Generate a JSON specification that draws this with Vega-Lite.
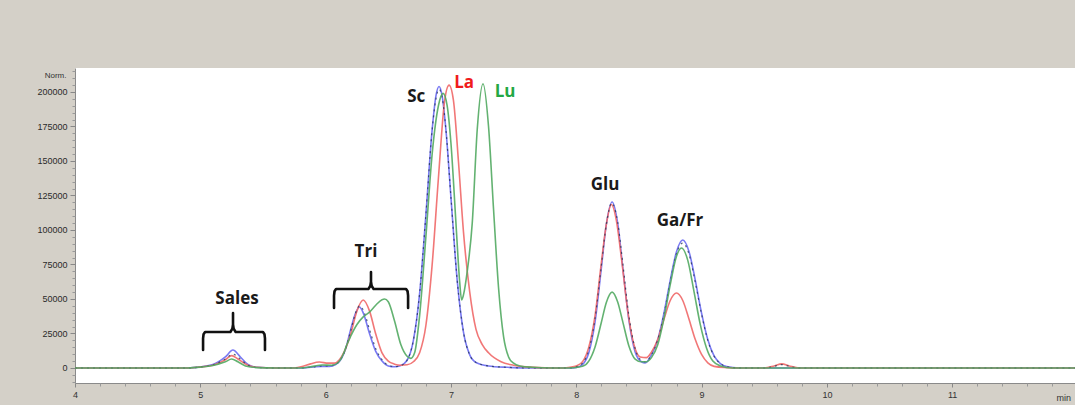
{
  "$schema": "https://vega.github.io/schema/vega-lite/v6.json",
  "width": 1000,
  "height": 315,
  "autosize": {"type": "none"},
  "padding": {"left": 75, "top": 68, "right": 0, "bottom": 22},
  "background": "#d4d0c8",
  "config": {"view": {"fill": "white", "stroke": null}},
  "datasets": {
    "tr": [
      {"s":"Sc","t":4.0,"v":0},{"s":"Sc","t":4.9,"v":0},{"s":"Sc","t":5.0,"v":800},{"s":"Sc","t":5.1,"v":2500},{"s":"Sc","t":5.2,"v":8000},{"s":"Sc","t":5.26,"v":13000},{"s":"Sc","t":5.32,"v":8000},{"s":"Sc","t":5.38,"v":2500},{"s":"Sc","t":5.45,"v":500},{"s":"Sc","t":5.6,"v":0},{"s":"Sc","t":5.8,"v":0},{"s":"Sc","t":5.9,"v":800},{"s":"Sc","t":5.97,"v":1200},{"s":"Sc","t":6.03,"v":1200},{"s":"Sc","t":6.08,"v":2500},{"s":"Sc","t":6.12,"v":6000},{"s":"Sc","t":6.16,"v":14000},{"s":"Sc","t":6.2,"v":28000},{"s":"Sc","t":6.24,"v":40000},{"s":"Sc","t":6.27,"v":44200},{"s":"Sc","t":6.3,"v":40000},{"s":"Sc","t":6.35,"v":25000},{"s":"Sc","t":6.4,"v":12000},{"s":"Sc","t":6.45,"v":5000},{"s":"Sc","t":6.5,"v":1500},{"s":"Sc","t":6.55,"v":900},{"s":"Sc","t":6.6,"v":1800},{"s":"Sc","t":6.65,"v":5600},{"s":"Sc","t":6.7,"v":19900},{"s":"Sc","t":6.75,"v":53900},{"s":"Sc","t":6.8,"v":110800},{"s":"Sc","t":6.85,"v":172500},{"s":"Sc","t":6.88,"v":197000},{"s":"Sc","t":6.905,"v":204000},{"s":"Sc","t":6.93,"v":197000},{"s":"Sc","t":6.96,"v":172500},{"s":"Sc","t":7.0,"v":123700},{"s":"Sc","t":7.05,"v":63500},{"s":"Sc","t":7.1,"v":26000},{"s":"Sc","t":7.15,"v":9500},{"s":"Sc","t":7.2,"v":4000},{"s":"Sc","t":7.3,"v":1500},{"s":"Sc","t":7.45,"v":500},{"s":"Sc","t":7.6,"v":0},{"s":"Sc","t":7.95,"v":0},{"s":"Sc","t":8.0,"v":400},{"s":"Sc","t":8.05,"v":2500},{"s":"Sc","t":8.1,"v":11000},{"s":"Sc","t":8.15,"v":33400},{"s":"Sc","t":8.2,"v":72200},{"s":"Sc","t":8.24,"v":104000},{"s":"Sc","t":8.286,"v":120300},{"s":"Sc","t":8.33,"v":105300},{"s":"Sc","t":8.37,"v":73900},{"s":"Sc","t":8.42,"v":34600},{"s":"Sc","t":8.47,"v":11600},{"s":"Sc","t":8.52,"v":4500},{"s":"Sc","t":8.55,"v":3600},{"s":"Sc","t":8.6,"v":9500},{"s":"Sc","t":8.65,"v":20400},{"s":"Sc","t":8.7,"v":39700},{"s":"Sc","t":8.75,"v":63500},{"s":"Sc","t":8.8,"v":84300},{"s":"Sc","t":8.85,"v":92700},{"s":"Sc","t":8.9,"v":84300},{"s":"Sc","t":8.95,"v":63500},{"s":"Sc","t":9.0,"v":39700},{"s":"Sc","t":9.05,"v":20400},{"s":"Sc","t":9.1,"v":8700},{"s":"Sc","t":9.15,"v":3200},{"s":"Sc","t":9.2,"v":1000},{"s":"Sc","t":9.3,"v":0},{"s":"Sc","t":11.98,"v":0},
      {"s":"La","t":4.0,"v":0},{"s":"La","t":4.9,"v":0},{"s":"La","t":5.0,"v":800},{"s":"La","t":5.1,"v":2000},{"s":"La","t":5.2,"v":6000},{"s":"La","t":5.25,"v":9000},{"s":"La","t":5.3,"v":6500},{"s":"La","t":5.38,"v":2000},{"s":"La","t":5.45,"v":500},{"s":"La","t":5.6,"v":0},{"s":"La","t":5.75,"v":0},{"s":"La","t":5.82,"v":1200},{"s":"La","t":5.88,"v":3000},{"s":"La","t":5.95,"v":4300},{"s":"La","t":6.02,"v":3500},{"s":"La","t":6.07,"v":3500},{"s":"La","t":6.11,"v":6000},{"s":"La","t":6.15,"v":12000},{"s":"La","t":6.2,"v":24600},{"s":"La","t":6.25,"v":41400},{"s":"La","t":6.3,"v":49300},{"s":"La","t":6.35,"v":41400},{"s":"La","t":6.4,"v":24600},{"s":"La","t":6.45,"v":11000},{"s":"La","t":6.5,"v":5000},{"s":"La","t":6.55,"v":2800},{"s":"La","t":6.6,"v":2000},{"s":"La","t":6.65,"v":2300},{"s":"La","t":6.7,"v":4500},{"s":"La","t":6.75,"v":11000},{"s":"La","t":6.8,"v":30800},{"s":"La","t":6.85,"v":74700},{"s":"La","t":6.9,"v":137500},{"s":"La","t":6.95,"v":194000},{"s":"La","t":6.985,"v":205000},{"s":"La","t":7.02,"v":194000},{"s":"La","t":7.06,"v":149600},{"s":"La","t":7.1,"v":98600},{"s":"La","t":7.15,"v":55000},{"s":"La","t":7.2,"v":28000},{"s":"La","t":7.25,"v":17000},{"s":"La","t":7.3,"v":11000},{"s":"La","t":7.4,"v":4500},{"s":"La","t":7.5,"v":2000},{"s":"La","t":7.6,"v":800},{"s":"La","t":7.8,"v":0},{"s":"La","t":7.9,"v":0},{"s":"La","t":7.95,"v":500},{"s":"La","t":8.0,"v":1500},{"s":"La","t":8.05,"v":4500},{"s":"La","t":8.1,"v":15000},{"s":"La","t":8.15,"v":38000},{"s":"La","t":8.2,"v":76000},{"s":"La","t":8.24,"v":104000},{"s":"La","t":8.28,"v":118500},{"s":"La","t":8.32,"v":107000},{"s":"La","t":8.36,"v":80000},{"s":"La","t":8.41,"v":42000},{"s":"La","t":8.46,"v":17000},{"s":"La","t":8.51,"v":8000},{"s":"La","t":8.56,"v":7500},{"s":"La","t":8.6,"v":11500},{"s":"La","t":8.65,"v":20600},{"s":"La","t":8.7,"v":35300},{"s":"La","t":8.75,"v":48900},{"s":"La","t":8.8,"v":54300},{"s":"La","t":8.85,"v":48900},{"s":"La","t":8.9,"v":35300},{"s":"La","t":8.95,"v":20600},{"s":"La","t":9.0,"v":9800},{"s":"La","t":9.05,"v":3700},{"s":"La","t":9.1,"v":1200},{"s":"La","t":9.2,"v":300},{"s":"La","t":9.3,"v":0},{"s":"La","t":9.5,"v":0},{"s":"La","t":9.58,"v":1500},{"s":"La","t":9.64,"v":3000},{"s":"La","t":9.7,"v":1500},{"s":"La","t":9.78,"v":0},{"s":"La","t":11.98,"v":0},
      {"s":"Lu","t":4.0,"v":0},{"s":"Lu","t":4.9,"v":0},{"s":"Lu","t":5.0,"v":600},{"s":"Lu","t":5.1,"v":1800},{"s":"Lu","t":5.2,"v":4500},{"s":"Lu","t":5.25,"v":6500},{"s":"Lu","t":5.3,"v":4500},{"s":"Lu","t":5.36,"v":1500},{"s":"Lu","t":5.45,"v":300},{"s":"Lu","t":5.6,"v":0},{"s":"Lu","t":5.8,"v":0},{"s":"Lu","t":5.9,"v":1200},{"s":"Lu","t":5.97,"v":2200},{"s":"Lu","t":6.05,"v":2000},{"s":"Lu","t":6.1,"v":4000},{"s":"Lu","t":6.15,"v":12000},{"s":"Lu","t":6.17,"v":17000},{"s":"Lu","t":6.2,"v":23000},{"s":"Lu","t":6.25,"v":31500},{"s":"Lu","t":6.3,"v":37000},{"s":"Lu","t":6.35,"v":40500},{"s":"Lu","t":6.4,"v":45500},{"s":"Lu","t":6.45,"v":49500},{"s":"Lu","t":6.47,"v":50000},{"s":"Lu","t":6.5,"v":48000},{"s":"Lu","t":6.55,"v":34000},{"s":"Lu","t":6.6,"v":17000},{"s":"Lu","t":6.65,"v":8500},{"s":"Lu","t":6.68,"v":7000},{"s":"Lu","t":6.71,"v":11000},{"s":"Lu","t":6.75,"v":38000},{"s":"Lu","t":6.8,"v":95000},{"s":"Lu","t":6.85,"v":155000},{"s":"Lu","t":6.9,"v":190000},{"s":"Lu","t":6.937,"v":199000},{"s":"Lu","t":6.97,"v":190000},{"s":"Lu","t":7.0,"v":163000},{"s":"Lu","t":7.04,"v":105000},{"s":"Lu","t":7.07,"v":62000},{"s":"Lu","t":7.085,"v":49300},{"s":"Lu","t":7.1,"v":53000},{"s":"Lu","t":7.13,"v":70000},{"s":"Lu","t":7.17,"v":105000},{"s":"Lu","t":7.21,"v":173000},{"s":"Lu","t":7.256,"v":206000},{"s":"Lu","t":7.3,"v":175000},{"s":"Lu","t":7.34,"v":115000},{"s":"Lu","t":7.38,"v":58000},{"s":"Lu","t":7.42,"v":22700},{"s":"Lu","t":7.46,"v":8000},{"s":"Lu","t":7.5,"v":3500},{"s":"Lu","t":7.55,"v":1500},{"s":"Lu","t":7.65,"v":500},{"s":"Lu","t":7.8,"v":0},{"s":"Lu","t":7.95,"v":0},{"s":"Lu","t":8.05,"v":1200},{"s":"Lu","t":8.1,"v":5000},{"s":"Lu","t":8.15,"v":15300},{"s":"Lu","t":8.2,"v":33000},{"s":"Lu","t":8.24,"v":47500},{"s":"Lu","t":8.286,"v":55000},{"s":"Lu","t":8.33,"v":48000},{"s":"Lu","t":8.37,"v":34000},{"s":"Lu","t":8.42,"v":16000},{"s":"Lu","t":8.47,"v":6500},{"s":"Lu","t":8.52,"v":4500},{"s":"Lu","t":8.56,"v":4500},{"s":"Lu","t":8.6,"v":7500},{"s":"Lu","t":8.65,"v":16800},{"s":"Lu","t":8.7,"v":36000},{"s":"Lu","t":8.75,"v":60400},{"s":"Lu","t":8.8,"v":81000},{"s":"Lu","t":8.84,"v":87000},{"s":"Lu","t":8.89,"v":78000},{"s":"Lu","t":8.94,"v":55200},{"s":"Lu","t":8.99,"v":31400},{"s":"Lu","t":9.04,"v":14300},{"s":"Lu","t":9.09,"v":5000},{"s":"Lu","t":9.15,"v":1500},{"s":"Lu","t":9.25,"v":0},{"s":"Lu","t":11.98,"v":0}
    ],
    "ref": [
      {"t":4.0,"v":0},{"t":4.9,"v":0},{"t":5.0,"v":700},{"t":5.1,"v":2200},{"t":5.2,"v":6500},{"t":5.26,"v":10000},{"t":5.32,"v":6500},{"t":5.38,"v":2000},{"t":5.45,"v":400},{"t":5.6,"v":0},{"t":5.8,"v":0},{"t":5.9,"v":800},{"t":5.97,"v":1500},{"t":6.03,"v":1500},{"t":6.08,"v":2700},{"t":6.12,"v":6000},{"t":6.16,"v":14000},{"t":6.2,"v":27000},{"t":6.24,"v":40000},{"t":6.27,"v":45000},{"t":6.3,"v":42000},{"t":6.35,"v":28000},{"t":6.4,"v":14000},{"t":6.45,"v":6000},{"t":6.5,"v":2000},{"t":6.55,"v":1000},{"t":6.6,"v":1800},{"t":6.65,"v":5600},{"t":6.7,"v":19900},{"t":6.75,"v":53900},{"t":6.8,"v":110800},{"t":6.85,"v":172500},{"t":6.88,"v":195000},{"t":6.905,"v":202000},{"t":6.93,"v":196000},{"t":6.96,"v":172500},{"t":7.0,"v":123700},{"t":7.05,"v":63500},{"t":7.1,"v":26000},{"t":7.15,"v":9500},{"t":7.2,"v":4000},{"t":7.3,"v":1500},{"t":7.45,"v":500},{"t":7.6,"v":0},{"t":7.95,"v":0},{"t":8.0,"v":800},{"t":8.05,"v":3500},{"t":8.1,"v":13000},{"t":8.15,"v":36000},{"t":8.2,"v":74000},{"t":8.24,"v":104000},{"t":8.283,"v":119500},{"t":8.33,"v":106000},{"t":8.37,"v":77000},{"t":8.42,"v":38000},{"t":8.47,"v":14000},{"t":8.52,"v":5500},{"t":8.55,"v":4500},{"t":8.6,"v":9500},{"t":8.65,"v":20400},{"t":8.7,"v":39000},{"t":8.75,"v":62500},{"t":8.8,"v":83000},{"t":8.85,"v":90500},{"t":8.9,"v":82500},{"t":8.95,"v":62000},{"t":9.0,"v":39000},{"t":9.05,"v":20000},{"t":9.1,"v":8500},{"t":9.15,"v":3200},{"t":9.2,"v":1000},{"t":9.3,"v":0},{"t":9.5,"v":0},{"t":9.58,"v":1200},{"t":9.64,"v":2500},{"t":9.7,"v":1200},{"t":9.78,"v":0},{"t":11.98,"v":0}
    ],
    "braces": [
      {"b":"Sales","o":1,"t":5.022,"v":13000},{"b":"Sales","o":2,"t":5.022,"v":21500},{"b":"Sales","o":3,"t":5.026,"v":24500},{"b":"Sales","o":4,"t":5.038,"v":26100},{"b":"Sales","o":5,"t":5.24,"v":26100},{"b":"Sales","o":6,"t":5.256,"v":28500},{"b":"Sales","o":7,"t":5.261,"v":31500},{"b":"Sales","o":8,"t":5.261,"v":39850},{"b":"Sales","o":9,"t":5.261,"v":31500},{"b":"Sales","o":10,"t":5.266,"v":28500},{"b":"Sales","o":11,"t":5.282,"v":26100},{"b":"Sales","o":12,"t":5.5,"v":26100},{"b":"Sales","o":13,"t":5.512,"v":24500},{"b":"Sales","o":14,"t":5.516,"v":21500},{"b":"Sales","o":15,"t":5.516,"v":13000},
      {"b":"Tri","o":1,"t":6.067,"v":43500},{"b":"Tri","o":2,"t":6.067,"v":52500},{"b":"Tri","o":3,"t":6.071,"v":55600},{"b":"Tri","o":4,"t":6.083,"v":57200},{"b":"Tri","o":5,"t":6.341,"v":57200},{"b":"Tri","o":6,"t":6.357,"v":59600},{"b":"Tri","o":7,"t":6.362,"v":62600},{"b":"Tri","o":8,"t":6.362,"v":69600},{"b":"Tri","o":9,"t":6.362,"v":62600},{"b":"Tri","o":10,"t":6.367,"v":59600},{"b":"Tri","o":11,"t":6.383,"v":57200},{"b":"Tri","o":12,"t":6.642,"v":57200},{"b":"Tri","o":13,"t":6.654,"v":55600},{"b":"Tri","o":14,"t":6.658,"v":52500},{"b":"Tri","o":15,"t":6.658,"v":43500}
    ],
    "labels": [
      {"text":"Sales","t":5.293,"v":50000},
      {"text":"Tri","t":6.322,"v":84000},
      {"text":"Sc","t":6.723,"v":196400},
      {"text":"La","t":7.105,"v":206500},
      {"text":"Lu","t":7.432,"v":200000},
      {"text":"Glu","t":8.23,"v":132600},
      {"text":"Ga/Fr","t":8.828,"v":106500}
    ]
  },
  "layer": [
    {
      "data": {"name": "tr"},
      "transform": [{"filter": "datum.s !== 'Lu'"}],
      "mark": {"type": "line", "interpolate": "monotone", "strokeWidth": 1.6, "opacity": 0.9},
      "encoding": {
        "x": {"field": "t", "type": "quantitative", "scale": {"domain": [4, 11.98], "nice": false, "zero": false},
          "axis": {"orient": "bottom", "values": [4,5,6,7,8,9,10,11], "grid": false, "labelFont": "Liberation Sans", "labelFontSize": 9, "labelColor": "#333333", "labelPadding": 3, "tickSize": 4, "tickColor": "#888888", "domainColor": "#8a8a8a", "labelFlush": false,
            "title": "min", "titleFont": "Liberation Sans", "titleFontSize": 9, "titleFontWeight": "normal", "titleColor": "#333333", "titleX": 981, "titleY": 14, "titleAlign": "left", "titleBaseline": "middle"}},
        "y": {"field": "v", "type": "quantitative", "scale": {"domain": [-10870, 217380], "nice": false, "zero": false},
          "axis": {"orient": "left", "values": [0,25000,50000,75000,100000,125000,150000,175000,200000], "format": "d", "grid": false, "labelFont": "Liberation Sans", "labelFontSize": 9, "labelColor": "#2a2a2a", "labelPadding": 3, "tickSize": 5, "tickColor": "#888888", "domainColor": "#8a8a8a",
            "title": "Norm.", "titleFont": "Liberation Sans", "titleFontSize": 8, "titleFontWeight": "normal", "titleColor": "#333333", "titleAngle": 0, "titleX": -9, "titleY": 7, "titleAlign": "right", "titleBaseline": "middle"}},
        "stroke": {"field": "s", "type": "nominal", "scale": {"domain": ["Sc", "La", "Lu"], "range": ["#6a6af2", "#f06868", "#52aa62"]}, "legend": null}
      }
    },
    {
      "data": {"name": "ref"},
      "mark": {"type": "line", "interpolate": "monotone", "strokeWidth": 1.2, "strokeDash": [2, 4], "stroke": "#1f3350", "opacity": 0.75},
      "encoding": {
        "x": {"field": "t", "type": "quantitative", "scale": {"domain": [4, 11.98], "nice": false, "zero": false}, "axis": null},
        "y": {"field": "v", "type": "quantitative", "scale": {"domain": [-10870, 217380], "nice": false, "zero": false}, "axis": null}
      }
    },
    {
      "data": {"name": "tr"},
      "transform": [{"filter": "datum.s === 'Lu'"}],
      "mark": {"type": "line", "interpolate": "monotone", "strokeWidth": 1.6, "opacity": 0.9},
      "encoding": {
        "x": {"field": "t", "type": "quantitative", "scale": {"domain": [4, 11.98], "nice": false, "zero": false}, "axis": null},
        "y": {"field": "v", "type": "quantitative", "scale": {"domain": [-10870, 217380], "nice": false, "zero": false}, "axis": null},
        "stroke": {"field": "s", "type": "nominal", "scale": {"domain": ["Sc", "La", "Lu"], "range": ["#6a6af2", "#f06868", "#52aa62"]}, "legend": null}
      }
    },
    {
      "data": {"name": "braces"},
      "mark": {"type": "line", "interpolate": "linear", "strokeWidth": 2.6, "stroke": "#111111", "strokeJoin": "round", "strokeCap": "round"},
      "encoding": {
        "x": {"field": "t", "type": "quantitative", "scale": {"domain": [4, 11.98], "nice": false, "zero": false},
          "axis": {"orient": "bottom", "values": [4.2,4.4,4.6,4.8,5.2,5.4,5.6,5.8,6.2,6.4,6.6,6.8,7.2,7.4,7.6,7.8,8.2,8.4,8.6,8.8,9.2,9.4,9.6,9.8,10.2,10.4,10.6,10.8,11.2,11.4,11.6,11.8], "labels": false, "domain": false, "grid": false, "tickSize": 3, "tickColor": "#999999", "title": null}},
        "y": {"field": "v", "type": "quantitative", "scale": {"domain": [-10870, 217380], "nice": false, "zero": false},
          "axis": {"orient": "left", "values": [-10000,-5000,5000,10000,15000,20000,30000,35000,40000,45000,55000,60000,65000,70000,80000,85000,90000,95000,105000,110000,115000,120000,130000,135000,140000,145000,155000,160000,165000,170000,180000,185000,190000,195000,205000,210000,215000], "labels": false, "domain": false, "grid": false, "tickSize": 3, "tickColor": "#999999", "title": null}},
        "detail": {"field": "b", "type": "nominal"},
        "order": {"field": "o", "type": "quantitative"}
      }
    },
    {
      "data": {"name": "labels"},
      "mark": {"type": "text", "font": "Open Sans", "fontWeight": "bold", "fontSize": 17, "align": "center", "baseline": "middle"},
      "encoding": {
        "x": {"field": "t", "type": "quantitative", "scale": {"domain": [4, 11.98], "nice": false, "zero": false}, "axis": null},
        "y": {"field": "v", "type": "quantitative", "scale": {"domain": [-10870, 217380], "nice": false, "zero": false}, "axis": null},
        "text": {"field": "text", "type": "nominal"},
        "fill": {"field": "text", "type": "nominal", "scale": {"domain": ["Sales", "Tri", "Sc", "La", "Lu", "Glu", "Ga/Fr"], "range": ["#1a1a1a", "#1a1a1a", "#1a1a1a", "#f01c1c", "#23a844", "#1a1a1a", "#1a1a1a"]}, "legend": null}
      }
    }
  ],
  "resolve": {"axis": {"x": "independent", "y": "independent"}}
}
